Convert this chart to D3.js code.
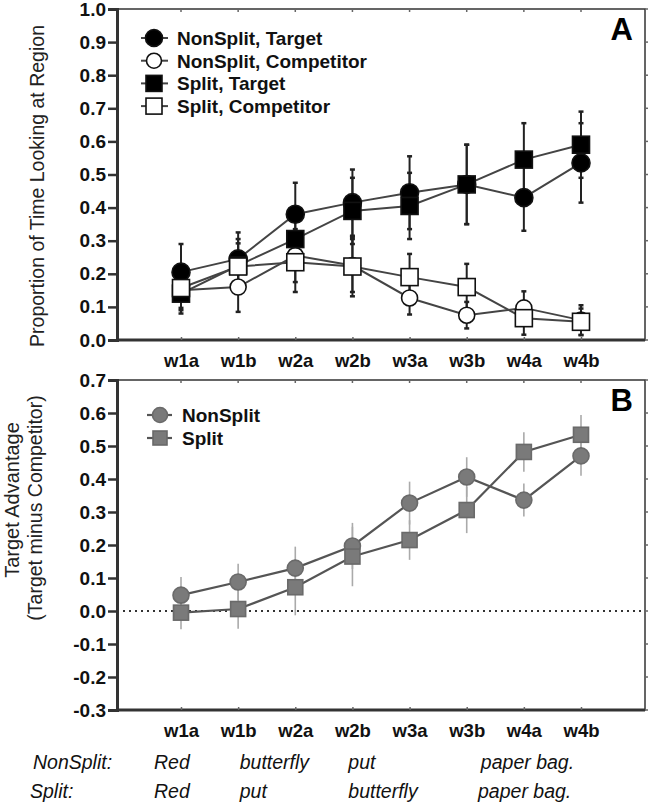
<!DOCTYPE html>
<html>
<head>
<meta charset="utf-8">
<script src="https://cdn.jsdelivr.net/npm/d3@7"></script>
<style>
  html, body { margin: 0; padding: 0; background: #fff; }
  svg { display: block; font-family: "Liberation Sans", Arial, sans-serif; }
</style>
</head>
<body>
<svg id="chart" width="655" height="803"></svg>
<script>
// ---- Data ----
const categories = ["w1a", "w1b", "w2a", "w2b", "w3a", "w3b", "w4a", "w4b"];

// Panel A: proportion of time looking at region
const nonSplitTarget     = [0.205, 0.245, 0.38, 0.415, 0.445, 0.47, 0.43, 0.535];
const nonSplitTargetErr  = [0.085, 0.08, 0.095, 0.10, 0.11, 0.12, 0.10, 0.12];
const nonSplitComp       = [0.15, 0.16, 0.255, 0.225, 0.127, 0.075, 0.097, 0.06];
const nonSplitCompErr    = [0.06, 0.075, 0.08, 0.08, 0.05, 0.04, 0.05, 0.045];
const splitTarget        = [0.14, 0.225, 0.305, 0.39, 0.405, 0.47, 0.545, 0.59];
const splitTargetErr     = [0.06, 0.08, 0.09, 0.10, 0.10, 0.12, 0.11, 0.10];
const splitComp          = [0.157, 0.222, 0.235, 0.222, 0.19, 0.16, 0.066, 0.055];
const splitCompErr       = [0.06, 0.07, 0.09, 0.09, 0.07, 0.07, 0.05, 0.04];

// Panel B: target advantage (target minus competitor)
const advNonSplit    = [0.048, 0.088, 0.13, 0.197, 0.327, 0.406, 0.336, 0.47];
const advNonSplitErr = [0.055, 0.055, 0.065, 0.07, 0.065, 0.06, 0.05, 0.06];
const advSplit       = [-0.005, 0.006, 0.072, 0.165, 0.215, 0.306, 0.482, 0.534];
const advSplitErr    = [0.05, 0.06, 0.085, 0.09, 0.06, 0.07, 0.06, 0.06];

const ticksA = [0.0, 0.1, 0.2, 0.3, 0.4, 0.5, 0.6, 0.7, 0.8, 0.9, 1.0];
const ticksB = [-0.3, -0.2, -0.1, 0.0, 0.1, 0.2, 0.3, 0.4, 0.5, 0.6, 0.7];

const wordRowLabels = ["NonSplit:", "Split:"];
const nonSplitWords = [["Red", 0], ["butterfly", 1.5], ["put", 3.4], ["paper bag.", 5.72]];
const splitWords    = [["Red", 0], ["put", 1.5], ["butterfly", 3.4], ["paper bag.", 5.67]];

// ---- Layout ----
const svg = d3.select("#chart");
const L = 117, R = 645;
const axisCol = "#333";

const x = d3.scalePoint().domain(categories).range([L, R]).padding(1.12);
const step = x.step();
const xi = i => x(categories[0]) + i * step;

const yA = d3.scaleLinear().domain([0, 1]).range([340, 9]);
const yB = d3.scaleLinear().domain([-0.3, 0.7]).range([710, 380]);

function drawFrame(y, ticks, top, bottom, labelY) {
  const g = svg.append("g");
  g.append("rect").attr("x", L).attr("y", top).attr("width", R - L).attr("height", bottom - top)
    .attr("fill", "none").attr("stroke", axisCol).attr("stroke-width", 1.5);
  const ax = d3.axisLeft(y).tickValues(ticks).tickFormat(d3.format(".1f")).tickSize(9).tickPadding(2);
  const ga = g.append("g").attr("transform", `translate(${L},0)`).call(ax);
  ga.select(".domain").attr("stroke", axisCol).attr("stroke-width", 3);
  ga.selectAll(".tick line").attr("stroke", axisCol).attr("stroke-width", 2.5);
  ga.selectAll(".tick text").attr("font-size", 19).attr("font-weight", "bold").attr("fill", "#111")
    .attr("font-family", "'Liberation Sans', Arial, sans-serif")
    .text(d => d3.format(".1f")(d).replace("−", "-"));
  g.append("g").selectAll("line").data(ticks).join("line")
    .attr("x1", R).attr("x2", R + 3).attr("y1", d => y(d)).attr("y2", d => y(d))
    .attr("stroke", "#666").attr("stroke-width", 1.5);
  const bx = d3.axisBottom(x).tickSize(3).tickPadding(14);
  const gb = g.append("g").attr("transform", `translate(0,${bottom})`).call(bx);
  gb.select(".domain").attr("stroke", axisCol).attr("stroke-width", 3).attr("d", `M${L},0H${R}`);
  gb.selectAll(".tick line").attr("stroke", "#666").attr("stroke-width", 1.5).attr("y2", -3);
  gb.selectAll(".tick text").attr("font-size", 18.5).attr("font-weight", "bold").attr("fill", "#111")
    .attr("font-family", "'Liberation Sans', Arial, sans-serif")
    .attr("dy", null).attr("y", labelY - bottom);
  g.append("g").selectAll("line").data(categories).join("line")
    .attr("x1", d => x(d)).attr("x2", d => x(d)).attr("y1", top).attr("y2", top + 3)
    .attr("stroke", "#666").attr("stroke-width", 1.5);
  return g;
}

// ---------------- Panel A ----------------
drawFrame(yA, ticksA, 9, 340, 367);

const seriesA = [
  { name: "NonSplit, Target", vals: nonSplitTarget, err: nonSplitTargetErr, shape: "circle", fill: "#000" },
  { name: "NonSplit, Competitor", vals: nonSplitComp, err: nonSplitCompErr, shape: "circle", fill: "#fff" },
  { name: "Split, Target", vals: splitTarget, err: splitTargetErr, shape: "square", fill: "#000" },
  { name: "Split, Competitor", vals: splitComp, err: splitCompErr, shape: "square", fill: "#fff" }
];

const gA = svg.append("g");
seriesA.forEach(s => {
  const eg = gA.append("g");
  eg.append("g").selectAll("line").data(s.vals).join("line")
    .attr("x1", (d, i) => xi(i)).attr("x2", (d, i) => xi(i))
    .attr("y1", (d, i) => yA(d + s.err[i])).attr("y2", (d, i) => yA(d - s.err[i]))
    .attr("stroke", "#222").attr("stroke-width", 2);
  eg.append("g").selectAll("line").data(s.vals).join("line")
    .attr("x1", (d, i) => xi(i) - 2.5).attr("x2", (d, i) => xi(i) + 2.5)
    .attr("y1", (d, i) => yA(d + s.err[i])).attr("y2", (d, i) => yA(d + s.err[i]))
    .attr("stroke", "#222").attr("stroke-width", 2.5);
  eg.append("g").selectAll("line").data(s.vals).join("line")
    .attr("x1", (d, i) => xi(i) - 2.5).attr("x2", (d, i) => xi(i) + 2.5)
    .attr("y1", (d, i) => yA(d - s.err[i])).attr("y2", (d, i) => yA(d - s.err[i]))
    .attr("stroke", "#222").attr("stroke-width", 2.5);
});
const lineA = d3.line().x((d, i) => xi(i)).y(d => yA(d));
seriesA.forEach(s => {
  gA.append("path").attr("d", lineA(s.vals)).attr("fill", "none")
    .attr("stroke", "#444").attr("stroke-width", 2);
});
function drawMarker(g, shape, cx, cy, fill, stroke, size) {
  if (shape === "circle") {
    g.append("circle").attr("cx", cx).attr("cy", cy).attr("r", size / 2)
      .attr("fill", fill).attr("stroke", stroke).attr("stroke-width", 1.6);
  } else {
    g.append("rect").attr("x", cx - size / 2).attr("y", cy - size / 2)
      .attr("width", size).attr("height", size)
      .attr("fill", fill).attr("stroke", stroke).attr("stroke-width", 1.6);
  }
}
seriesA.forEach(s => {
  const size = s.shape === "circle" ? (s.fill === "#000" ? 18 : 16) : 17;
  s.vals.forEach((v, i) => drawMarker(gA, s.shape, xi(i), yA(v), s.fill, "#111", size));
});

// legend A
const legA = svg.append("g");
seriesA.forEach((s, k) => {
  const cy = 38 + k * 22.7;
  legA.append("line").attr("x1", 141).attr("x2", 168).attr("y1", cy).attr("y2", cy)
    .attr("stroke", "#444").attr("stroke-width", 2);
  const size = s.shape === "circle" ? (s.fill === "#000" ? 17 : 15) : 16;
  drawMarker(legA, s.shape, 154, cy, s.fill, "#111", size);
  legA.append("text").attr("x", 177).attr("y", cy + 7).text(s.name)
    .attr("font-size", 19).attr("font-weight", "bold").attr("fill", "#111");
});
svg.append("text").attr("x", 633).attr("y", 40).attr("text-anchor", "end")
  .attr("font-size", 31).attr("font-weight", "bold").text("A");

svg.append("text").attr("transform", "translate(44,186) rotate(-90)").attr("text-anchor", "middle")
  .attr("font-size", 19.5).attr("fill", "#222").text("Proportion of Time Looking at Region");

// ---------------- Panel B ----------------
drawFrame(yB, ticksB, 380, 710, 737);

svg.append("line").attr("x1", L).attr("x2", R).attr("y1", yB(0)).attr("y2", yB(0))
  .attr("stroke", "#333").attr("stroke-width", 2).attr("stroke-dasharray", "2,4");

const seriesB = [
  { name: "NonSplit", vals: advNonSplit, err: advNonSplitErr, shape: "circle" },
  { name: "Split", vals: advSplit, err: advSplitErr, shape: "square" }
];
const gB = svg.append("g");
seriesB.forEach(s => {
  gB.append("g").selectAll("line").data(s.vals).join("line")
    .attr("x1", (d, i) => xi(i)).attr("x2", (d, i) => xi(i))
    .attr("y1", (d, i) => yB(d + s.err[i])).attr("y2", (d, i) => yB(d - s.err[i]))
    .attr("stroke", "#aaa").attr("stroke-width", 1.6);
});
const lineB = d3.line().x((d, i) => xi(i)).y(d => yB(d));
seriesB.forEach(s => {
  gB.append("path").attr("d", lineB(s.vals)).attr("fill", "none")
    .attr("stroke", "#555").attr("stroke-width", 2.2);
});
seriesB.forEach(s => {
  s.vals.forEach((v, i) => drawMarker(gB, s.shape, xi(i), yB(v), "#7a7a7a", "#6a6a6a", s.shape === "circle" ? 16 : 15));
});
const legB = svg.append("g");
seriesB.forEach((s, k) => {
  const cy = 415 + k * 23;
  legB.append("line").attr("x1", 147).attr("x2", 172).attr("y1", cy).attr("y2", cy)
    .attr("stroke", "#555").attr("stroke-width", 2.2);
  drawMarker(legB, s.shape, 160, cy, "#7a7a7a", "#6a6a6a", s.shape === "circle" ? 15 : 14);
  legB.append("text").attr("x", 182).attr("y", cy + 7).text(s.name)
    .attr("font-size", 19).attr("font-weight", "bold").attr("fill", "#111");
});
svg.append("text").attr("x", 633).attr("y", 411).attr("text-anchor", "end")
  .attr("font-size", 31).attr("font-weight", "bold").text("B");

svg.append("text").attr("transform", "translate(19,500) rotate(-90)").attr("text-anchor", "middle")
  .attr("font-size", 20).attr("fill", "#222").text("Target Advantage");
svg.append("text").attr("transform", "translate(42,508) rotate(-90)").attr("text-anchor", "middle")
  .attr("font-size", 19.5).attr("fill", "#222").text("(Target minus Competitor)");

// ---------------- Word rows ----------------
const wordsG = svg.append("g").attr("font-style", "italic").attr("font-size", 19.5).attr("fill", "#111");
[nonSplitWords, splitWords].forEach((row, r) => {
  const yy = 769 + r * 29;
  wordsG.append("text").attr("x", r === 0 ? 33 : 30).attr("y", yy).text(wordRowLabels[r]);
  row.forEach(([w, pos]) => {
    wordsG.append("text").attr("x", xi(pos) - 27).attr("y", yy).text(w);
  });
});
</script>
</body>
</html>
